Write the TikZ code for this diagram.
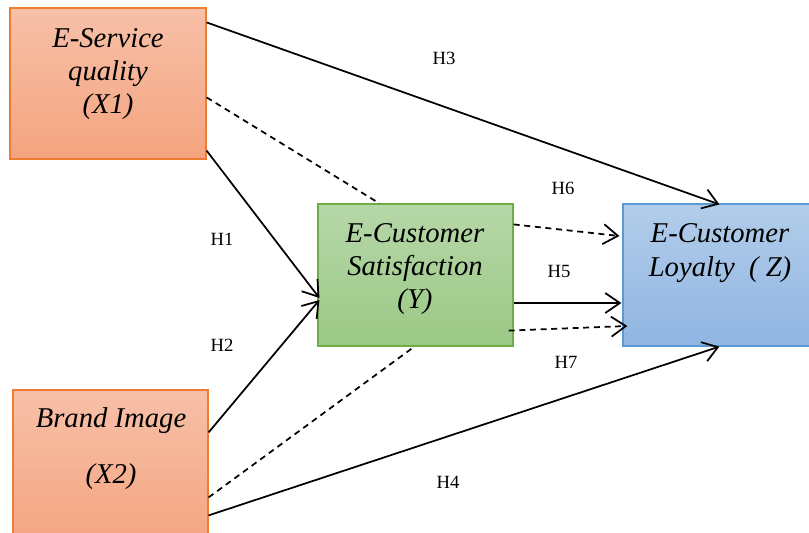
\documentclass[tikz,border=0pt]{standalone}
\usepackage{fontspec}
\setmainfont{Liberation Serif}
\usetikzlibrary{arrows.meta,calc}
\definecolor{orTop}{HTML}{F7C0A8}
\definecolor{orBot}{HTML}{F4A47F}
\definecolor{orLine}{HTML}{ED7D31}
\definecolor{grTop}{HTML}{B6D7A8}
\definecolor{grBot}{HTML}{9BC985}
\definecolor{grLine}{HTML}{70AD47}
\definecolor{blTop}{HTML}{B2CDEA}
\definecolor{blBot}{HTML}{90B5E2}
\definecolor{blLine}{HTML}{5B9BD5}
\tikzset{
  box/.style={rectangle, line width=0.9pt, inner sep=0pt},
  orbox/.style={box, draw=orLine, top color=orTop, bottom color=orBot},
  grbox/.style={box, draw=grLine, top color=grTop, bottom color=grBot},
  blbox/.style={box, draw=blLine, top color=blTop, bottom color=blBot},
  txt/.style={font=\fontsize{21.5}{25}\selectfont\itshape, align=center, inner sep=0pt},
  hlab/.style={font=\fontsize{14}{16}\selectfont, inner sep=0pt},
  conn/.style={line width=1.3pt, -{Straight Barb[length=11pt,width=15pt,line width=1.3pt]}},
  plain/.style={line width=1.3pt},
  dsh/.style={dash pattern=on 4.5pt off 3.5pt},
}
\begin{document}
\begin{tikzpicture}[x=0.75pt,y=-0.75pt]
\useasboundingbox (0,0) rectangle (809,532);
\clip (0,0) rectangle (809,532);
% boxes
\node[orbox, minimum width=196*0.75pt, minimum height=151*0.75pt] (x1) at (108,83.5) {};
\node[orbox, minimum width=195*0.75pt, minimum height=160*0.75pt] (x2) at (110.5,470) {};
\node[grbox, minimum width=195*0.75pt, minimum height=142*0.75pt] (y) at (415.5,275) {};
\node[blbox, minimum width=190*0.75pt, minimum height=142*0.75pt] (z) at (718,275) {};
% box texts
\node[txt] (x1t) at (108,74) {E-Service\\quality\\(X1)};
\node[txt] (x2t) at (111,421) {Brand Image};
\node[txt] (x2u) at (111,477) {(X2)};
\node[txt] (yt) at (415,269) {E-Customer\\Satisfaction\\(Y)};
\node[txt] (zt) at (720,253) {E-Customer\\Loyalty~~( Z)};
% connectors
\draw[conn] ($(x1.north east)+(0,15)$) -- ($(z.north west)+(97,1)$);
\draw[plain,dsh] ($(x1.north east)+(0,90)$) -- ($(y.north west)+(62,0)$);
\draw[conn] ($(x1.south east)+(0,-9)$) -- ($(y.west)+(2,23)$);
\draw[conn] ($(x2.north east)+(0,43)$) -- ($(y.west)+(2,25)$);
\draw[plain,dsh] ($(x2.north east)+(0,108)$) -- ($(y.south west)+(97,0)$);
\draw[conn] ($(x2.north east)+(0,126)$) -- ($(z.south west)+(97,0)$);
\draw[conn,dsh] ($(y.north east)+(0,21)$) -- ($(z.west)+(-3,-39)$);
\draw[conn] ($(y.east)+(0,28)$) -- ($(z.west)+(-1,28)$);
\draw[conn,dsh] ($(y.south east)+(-5,-16)$) -- ($(z.west)+(5,51)$);
% labels
\node[hlab] (h3) at (444,58) {H3};
\node[hlab] (h6) at (563,188) {H6};
\node[hlab] (h1) at (222,239) {H1};
\node[hlab] (h5) at (559,271) {H5};
\node[hlab] (h2) at (222,345) {H2};
\node[hlab] (h7) at (566,362) {H7};
\node[hlab] (h4) at (448,482) {H4};
\end{tikzpicture}
\end{document}
